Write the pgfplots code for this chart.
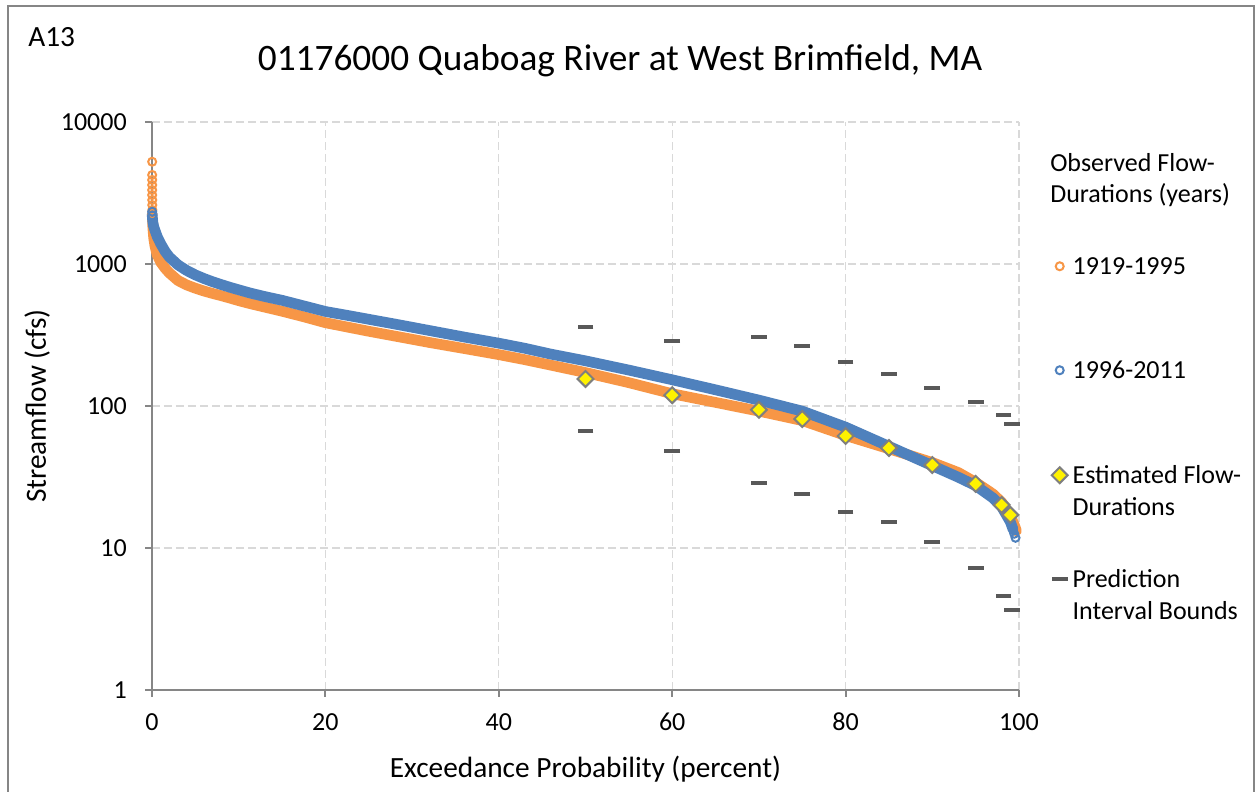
\documentclass[border=0pt]{standalone}
\usepackage{fontspec}
\setmainfont{Carlito}
\usepackage{pgfplots}
\pgfplotsset{compat=1.18}
\definecolor{cOr}{HTML}{F79646}
\definecolor{cBl}{HTML}{4F81BD}
\definecolor{cAx}{HTML}{868686}
\definecolor{cGr}{HTML}{D9D9D9}
\definecolor{cBd}{HTML}{595959}
\definecolor{cDg}{HTML}{7F7F7F}
\newcommand\tfont{\fontsize{19.5pt}{23.6pt}\selectfont}
\newcommand\lfont{\fontsize{22pt}{26.5pt}\selectfont}
\begin{document}
\begin{tikzpicture}
\useasboundingbox (0,0) rectangle (942.75pt,594pt);
\fill[white] (0,0) rectangle (942.75pt,594pt);
\draw[cAx, line width=1.5pt] (6pt,-10pt) rectangle (940.5pt,589.5pt);
\node[anchor=base west, inner sep=0, font=\fontsize{22pt}{26pt}\selectfont] at (21pt,558.75pt) {A13};
\node[anchor=base west, align=left, inner sep=0, font=\tfont] at (787.5pt,441.75pt) {Observed Flow-\\Durations (years)};
\begin{axis}[
  at={(114pt,76.5pt)}, anchor=south west, scale only axis,
  width=650.25pt, height=426pt,
  ymode=log, xmin=0, xmax=100, ymin=1, ymax=10000,
  xtick={0,20,40,60,80,100}, xticklabels={0,20,40,60,80,100},
  ytick={1,10,100,1000,10000}, yticklabels={1,10,100,1000,10000},
  yminorticks=false, clip=false,
  axis x line=bottom, axis y line=left,
  axis line style={-, cAx, line width=1.5pt},
  tick align=outside, major tick length=5.25pt,
  tick style={cAx, line width=1.5pt},
  grid=major, major grid style={cGr, line width=1pt, dash pattern=on 6pt off 3pt},
  xticklabel style={font=\tfont, inner sep=0pt, anchor=base, yshift=-25.5pt},
  yticklabel style={font=\tfont, inner sep=0pt, anchor=east, xshift=-13.5pt},
  xlabel={Exceedance Probability (percent)},
  xlabel style={font=\lfont, inner sep=0pt, at={(axis description cs:0.5,-0.1532)}, anchor=base},
  ylabel={Streamflow (cfs)},
  ylabel style={font=\lfont, inner sep=0pt, at={(axis description cs:-0.1223,0.5)}, anchor=base},
  title={01176000 Quaboag River at West Brimfield, MA},
  title style={font=\fontsize{28pt}{33pt}\selectfont, inner sep=0pt, at={(axis description cs:0.5398,1.0757)}, anchor=base},
  legend image code/.code={\path (0pt,0pt) (16pt,0pt); \draw[#1] plot coordinates {(8pt,0pt)};},
  legend cell align=left,
  legend style={draw=none, fill=none, at={(axis description cs:1.0332,0.7729)}, anchor=north west,
    inner sep=0pt, row sep=0pt, column sep=0.9pt, nodes={inner sep=0pt, font=\tfont}},
]
% orange band 1919-1995
\addplot[cOr, line width=8pt, line join=round, line cap=round, forget plot] table {
x y
0.05 2100
0.1 1800
0.2 1520
0.35 1330
0.6 1160
1 1030
1.5 935
2 865
3 765
4 712
5 675
6 645
7 620
8 598
9 575
10 552
11.3 526
13 497
15 465
17.5 425
20 386
22.5 360
25 336
28.6 306
32 280
36 254
40 230
43 212
46 194
50 172
55 146
60 122
65 106
70 92
75 79
80 62
85 50
90 40
93 34
95 29
97 24
98 21
99 16.9
99.5 14.3
99.7 13.2
};
\addplot[only marks, mark=o, cOr, mark size=3pt, line width=1.5pt] table {
x y
0.02 5250
0.02 4236
0.02 3908
0.02 3600
0.02 3319
0.02 3060
0.03 2822
0.03 2601
0.04 2400
0.04 2250
};
\addlegendentry[text height=17.25pt, text depth=5.25pt]{1919-1995}
% blue band 1996-2011
\addplot[cBl, line width=8pt, line join=round, line cap=round, forget plot] table {
x y
0.02 2250
0.05 2100
0.1 1960
0.2 1830
0.35 1720
0.6 1560
1.0 1390
1.5 1230
2 1120
3 985
4 900
5 838
6 790
7 750
8 716
9 685
10 658
11.3 625
13 590
15 555
17.5 507
20 463
22.5 435
25 408
28.6 372
32 340
36 306
40 277
43 255
46 232
50 208
55 179
60 153
65 130
70 110
75 92
80 71
85 52
90 38
93 31.5
95 27.5
97 22.5
98 19.5
99 15.3
99.3 13.6
};
\addplot[only marks, mark=o, cBl, mark size=3pt, line width=1.5pt] table {
x y
0.02 2335
0.03 2200
99.3 13.4
99.45 12.6
99.6 11.8
};
\addlegendentry[text height=72.75pt, text depth=60.75pt]{1996-2011}
% estimated
\addplot[only marks, mark=square*, mark size=4.2pt, mark options={rotate=45, fill=yellow, draw=cDg, line width=1.5pt}] table {
x y
50 155
60 119
70 94
75 81
80 61.5
85 50.6
90 38.4
95 28.3
98 20.1
99 17.1
};
\addlegendentry[text height=18pt, text depth=6pt]{Estimated Flow-}
\addlegendimage{empty legend}
\addlegendentry[text height=18pt, text depth=36pt]{Durations}
% prediction bounds
\addplot[only marks, mark=-, mark size=5.9pt, cBd, mark options={line width=2.8pt, line cap=butt}] table {
x y
50 360
60 287
70 306
75 265
80 204
85 168
90 134
95 107
98.2 86.5
99.2 74.7
};
\addlegendentry[text height=18pt, text depth=6pt]{Prediction}
\addlegendimage{empty legend}
\addlegendentry[text height=18pt, text depth=6pt]{Interval Bounds}
\addplot[only marks, mark=-, mark size=5.9pt, cBd, mark options={line width=2.8pt, line cap=butt}, forget plot] table {
x y
50 66.7
60 48.2
70 28.7
75 24
80 17.9
85 15.2
90 11
95 7.2
98.2 4.6
99.2 3.66
};
\end{axis}
\end{tikzpicture}
\end{document}
